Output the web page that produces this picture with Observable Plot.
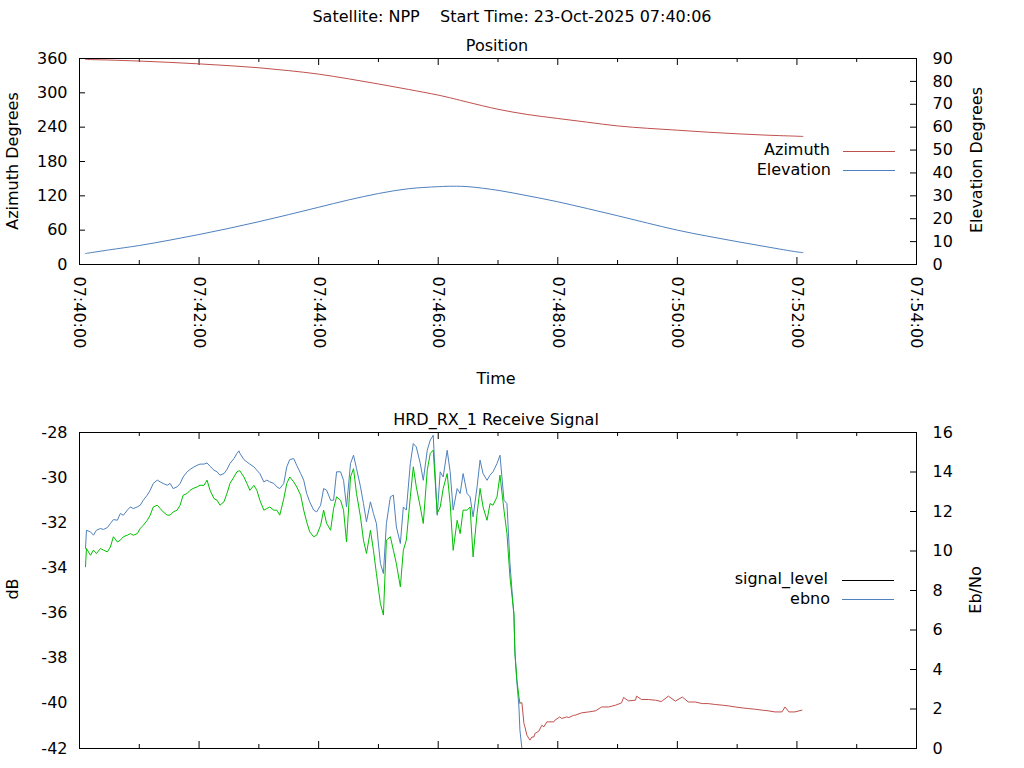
<!DOCTYPE html>
<html><head><meta charset="utf-8">
<script src="https://cdn.jsdelivr.net/npm/d3@7"></script>
<script src="https://cdn.jsdelivr.net/npm/@observablehq/plot@0.6"></script>
<style>
html,body{margin:0;padding:0;background:#fff;}
#wrap{position:relative;width:1024px;height:768px;overflow:hidden;font-family:"DejaVu Sans",sans-serif;font-size:16px;color:#000;}
.t{position:absolute;white-space:pre;transform:translate(-50%,-50%);line-height:1;}
.r{position:absolute;white-space:pre;transform:translate(-50%,-50%) rotate(-90deg);line-height:1;}
.lg{position:absolute;white-space:pre;transform:translateY(-50%);line-height:1;text-align:right;}
.sw{position:absolute;height:1px;width:52px;}
.panel{position:absolute;left:0;}
</style></head><body>
<div id="wrap">
  <div class="t" style="left:512px;top:17px">Satellite: NPP    Start Time: 23-Oct-2025 07:40:06</div>
  <div class="t" style="left:497px;top:46px">Position</div>
  <div class="t" style="left:496px;top:379px">Time</div>
  <div class="t" style="left:496px;top:420px">HRD_RX_1 Receive Signal</div>
  <div class="r" style="left:13px;top:161px">Azimuth Degrees</div>
  <div class="r" style="left:977px;top:160px">Elevation Degrees</div>
  <div class="r" style="left:13px;top:589px">dB</div>
  <div class="r" style="left:976px;top:590px">Eb/No</div>
  <div id="top" class="panel" style="top:0px"></div>
  <div id="bot" class="panel" style="top:390px"></div>
  <div class="lg" style="right:194px;top:150px">Azimuth</div>
  <div class="sw" style="left:843px;top:151px;background:#c0504d"></div>
  <div class="lg" style="right:193px;top:170px">Elevation</div>
  <div class="sw" style="left:843px;top:170px;background:#4f81bd"></div>
  <div class="lg" style="right:196px;top:579px">signal_level</div>
  <div class="sw" style="left:842px;top:580px;background:#000"></div>
  <div class="lg" style="right:194px;top:599px">ebno</div>
  <div class="sw" style="left:842px;top:599px;background:#4f81bd"></div>
</div>
<script>
// ---------- data ----------
const majorTickLabels = ["07:40:00","07:42:00","07:44:00","07:46:00","07:48:00","07:50:00","07:52:00","07:54:00"];
const minorTickLabels = ["07:41:00","07:43:00","07:45:00","07:47:00","07:49:00","07:51:00","07:53:00"];
const azimuthTicks = [0, 60, 120, 180, 240, 300, 360];
const elevationTicks = [0, 10, 20, 30, 40, 50, 60, 70, 80, 90];
const dbTicks = [-42, -40, -38, -36, -34, -32, -30, -28];
const ebnoTicks = [0, 2, 4, 6, 8, 10, 12, 14, 16];

// seconds after 07:40:00
const posTime = [6,30,60,90,120,150,180,210,240,270,300,330,360,375,390,420,450,480,510,540,570,600,630,660,690,720,726];
const azimuth = [358.3,357.3,355.5,353.3,350.6,347.5,343.8,338.8,332.7,324.5,315.5,306.0,296.0,290.0,283.5,271.3,262.0,255.2,248.6,242.2,238.0,234.7,231.3,228.4,226.0,224.2,223.8];
const elevation = [4.8,6.4,8.3,10.6,13.1,15.8,18.7,21.8,25.0,28.2,31.0,33.1,34.0,34.2,34.0,32.4,30.0,27.4,24.4,21.3,18.1,15.0,12.4,10.0,7.7,5.5,5.2];

const sigTime = [6,7,11,14,17,21,24,28,31,34,38,41,44,48,51,54,58,61,64,68,71,74,78,81,84,88,91,94,98,101,104,108,111,114,118,121,125,128,131,135,138,141,145,148,151,155,158,160,161,165,168,171,175,178,181,185,188,191,195,198,201,205,208,211,215,218,222,225,228,231,
  235,238,242,245,248,252,255,258,262,265,268,272,275,278,282,285,288,292,295,298,302,305,308,312,315,318,322,325,328,332,335,338,342,345,349,352,355,359,362,365,369,372,375,379,382,385,389,392,395,399,402,405,409,412,415,419,422,426,429,432,436,
  437,439,441,442,444];
const signalLevel = [-33.95,-33.14,-33.44,-33.21,-33.36,-33.14,-33.21,-33.29,-33.07,-32.62,-32.85,-32.77,-32.62,-32.55,-32.48,-32.55,-32.48,-32.25,-32.11,-31.89,-31.66,-31.30,-31.22,-31.37,-31.52,-31.66,-31.66,-31.52,-31.44,-31.22,-30.78,-30.70,-30.56,-30.48,-30.41,-30.34,-30.34,-30.11,-30.56,-30.93,-31.00,-31.22,-31.07,-30.70,-30.26,-29.97,-29.74,-29.70,-29.70,-29.97,-30.26,-30.56,-30.34,-30.56,-31.00,-31.44,-31.37,-31.30,-31.44,-31.44,-31.66,-30.93,-30.26,-29.97,-30.19,-30.41,-30.78,-31.44,-31.96,-32.40,
  -32.62,-32.55,-32.11,-31.44,-32.03,-32.33,-31.37,-30.85,-31.00,-31.44,-32.85,-29.97,-29.60,-30.70,-31.74,-32.77,-33.36,-32.33,-33.22,-34.25,-35.58,-36.09,-32.77,-32.62,-33.22,-33.81,-34.84,-33.22,-32.77,-30.85,-29.52,-30.41,-31.30,-32.03,-29.67,-28.93,-28.78,-31.59,-31.30,-30.48,-29.82,-31.15,-33.22,-31.89,-32.48,-31.44,-31.44,-31.30,-33.51,-31.59,-30.48,-31.30,-31.89,-31.15,-31.22,-30.85,-29.89,-31.44,-32.48,-34.40,-36.02,
  -37.78,-38.97,-39.71,-39.99,null];
const ebno = [10.13,11.05,10.97,10.80,11.05,11.14,11.09,11.19,11.39,11.59,11.56,11.90,11.81,12.07,12.23,12.15,12.23,12.32,12.57,12.83,13.08,13.42,13.59,13.50,13.42,13.33,13.42,13.16,13.25,13.42,13.75,14.01,14.13,14.23,14.34,14.40,14.40,14.46,14.29,14.09,14.01,13.84,13.92,14.13,14.43,14.68,14.94,15.07,14.94,14.63,14.51,14.40,14.26,14.09,13.92,13.50,13.59,13.50,13.42,13.25,13.16,13.42,14.26,14.63,14.68,14.34,13.92,13.59,12.91,12.49,
  12.07,11.98,12.32,13.16,13.08,12.57,12.57,14.01,14.01,13.58,12.23,14.43,14.85,14.18,13.25,12.40,11.48,12.49,11.90,11.39,9.37,8.86,11.39,12.74,12.83,11.22,10.38,12.23,12.07,14.43,15.44,15.27,14.43,13.58,15.10,15.61,15.86,11.81,14.01,13.75,15.10,14.01,12.07,13.16,12.91,13.92,12.91,12.74,11.73,13.25,14.60,13.92,13.58,13.84,14.01,14.43,14.85,12.57,12.40,9.37,6.67,
  4.83,3.31,2.11,0.93,0];

// signal level after loss of lock
const lossTime = [442,444,446,447,449,452,454,456,457,461,464,466,469,471,476,477,482,484,489,491,496,497,504,511,518,524,531,538,544,546,551,558,559,564,571,578,584,591,598,605,611,618,625,631,638,645,651,658,665,671,678,685,691,698,705,708,712,718,725];
const lossSignal = [-39.99,-39.97,-40.89,-41.04,-41.41,-41.63,-41.49,-41.49,-41.34,-41.23,-40.97,-41.04,-40.82,-40.82,-40.82,-40.75,-40.60,-40.67,-40.60,-40.63,-40.53,-40.53,-40.42,-40.38,-40.33,-40.16,-40.16,-40.08,-39.98,-39.74,-39.89,-39.86,-39.68,-39.83,-39.83,-39.86,-39.92,-39.68,-39.90,-39.72,-39.94,-39.94,-40.01,-40.01,-40.05,-40.08,-40.11,-40.16,-40.20,-40.23,-40.26,-40.30,-40.33,-40.38,-40.38,-40.16,-40.38,-40.38,-40.30];

// ---------- build ----------
const base = Date.UTC(2025, 9, 23, 7, 40, 0);
const at = s => new Date(base + s * 1000);
const parseHMS = s => { const [h, m, x] = s.split(":").map(Number); return new Date(Date.UTC(2025, 9, 23, h, m, x)); };
const majorTicks = majorTickLabels.map(parseHMS);
const minorTicks = minorTickLabels.map(parseHMS);
const xDomain = [majorTicks[0], majorTicks[majorTicks.length - 1]];

const posRows = posTime.map((t, i) => ({time: at(t), az: azimuth[i], el: elevation[i]}));
const sigRows = sigTime.map((t, i) => ({time: at(t), sig: signalLevel[i], ebno: ebno[i]}));
const lossRows = lossTime.map((t, i) => ({time: at(t), sig: lossSignal[i]}));

const W = 1024, ML = 79, MR = 108;
const PW = W - ML - MR;
const RED = "#c0504d", BLUE = "#4f81bd", GREEN = "#00c000";
const font = {fontFamily: "'DejaVu Sans', sans-serif", fontSize: "16px", color: "#000", background: "transparent", overflow: "visible"};
const plain = d => String(d);

// top panel
const H1 = 400, MT1 = 58, MB1 = 136, PH1 = H1 - MT1 - MB1;
const elK = 360 / 90;
const topPlot = Plot.plot({
  width: W, height: H1, marginLeft: ML, marginRight: MR, marginTop: MT1, marginBottom: MB1,
  style: font,
  x: {type: "utc", domain: xDomain},
  y: {domain: [0, 360]},
  marks: [
    Plot.tickY(azimuthTicks, {y: d => d, insetRight: PW - 6, stroke: "#000"}),
    Plot.tickY(elevationTicks, {y: d => d * elK, insetLeft: PW - 6, stroke: "#000"}),
    Plot.tickX(majorTicks, {x: d => d, insetTop: PH1 - 7, stroke: "#000"}),
    Plot.tickX(majorTicks, {x: d => d, insetBottom: PH1 - 7, stroke: "#000"}),
    Plot.tickX(minorTicks, {x: d => d, insetTop: PH1 - 4, stroke: "#000"}),
    Plot.tickX(minorTicks, {x: d => d, insetBottom: PH1 - 4, stroke: "#000"}),
    Plot.axisY(azimuthTicks, {anchor: "left", tickSize: 0, tickPadding: 12, tickFormat: plain, label: null}),
    Plot.axisY(elevationTicks.map(d => d * elK), {anchor: "right", tickSize: 0, tickPadding: 16, tickFormat: d => String(Math.round(d / elK)), label: null}),
    Plot.axisX(majorTicks, {anchor: "bottom", tickSize: 0, tickPadding: 12, tickRotate: 90, tickFormat: d3.utcFormat("%H:%M:%S"), label: null}),
    Plot.line(posRows, {x: "time", y: "az", stroke: RED, strokeWidth: 1, curve: "catmull-rom"}),
    Plot.line(posRows, {x: "time", y: d => d.el * elK, stroke: BLUE, strokeWidth: 1, curve: "catmull-rom"}),
    Plot.frame({stroke: "#000"})
  ]
});
document.getElementById("top").appendChild(topPlot);

// bottom panel
const H2 = 378, MT2 = 42, MB2 = 20, PH2 = H2 - MT2 - MB2;
const ebK = 14 / 16;
const e2db = e => -42 + e * ebK;
const botPlot = Plot.plot({
  width: W, height: H2, marginLeft: ML, marginRight: MR, marginTop: MT2, marginBottom: MB2,
  style: font,
  x: {type: "utc", domain: xDomain, axis: null},
  y: {domain: [-42, -28]},
  marks: [
    Plot.tickY(ebnoTicks, {y: e2db, insetLeft: PW - 6, stroke: "#000"}),
    Plot.tickX(majorTicks, {x: d => d, insetTop: PH2 - 7, stroke: "#000"}),
    Plot.tickX(majorTicks, {x: d => d, insetBottom: PH2 - 7, stroke: "#000"}),
    Plot.tickX(minorTicks, {x: d => d, insetTop: PH2 - 4, stroke: "#000"}),
    Plot.tickX(minorTicks, {x: d => d, insetBottom: PH2 - 4, stroke: "#000"}),
    Plot.axisY(dbTicks, {anchor: "left", tickSize: 0, tickPadding: 12, tickFormat: plain, label: null}),
    Plot.axisY(ebnoTicks.map(e2db), {anchor: "right", tickSize: 0, tickPadding: 16, tickFormat: d => String(Math.round((d + 42) / ebK)), label: null}),
    Plot.line(sigRows, {x: "time", y: d => e2db(d.ebno), stroke: BLUE, strokeWidth: 1, clip: true}),
    Plot.line(sigRows, {x: "time", y: "sig", stroke: GREEN, strokeWidth: 1, clip: true}),
    Plot.line(lossRows, {x: "time", y: "sig", stroke: RED, strokeWidth: 1, clip: true}),
    Plot.frame({stroke: "#000"})
  ]
});
document.getElementById("bot").appendChild(botPlot);
</script>
</body></html>
